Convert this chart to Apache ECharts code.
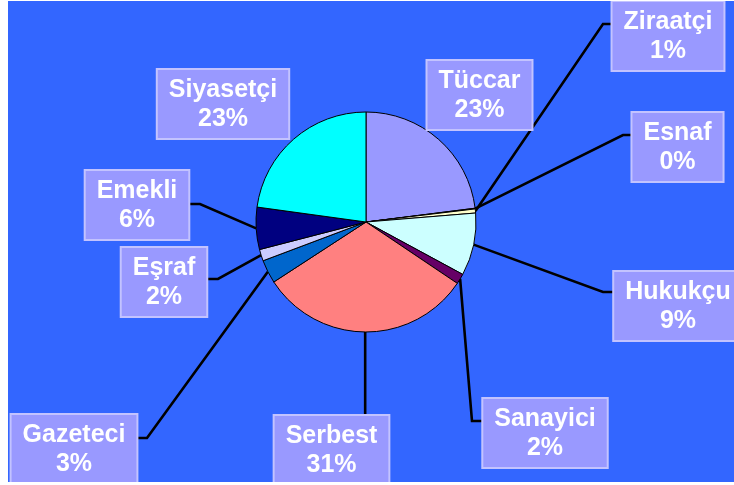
<!DOCTYPE html>
<html>
<head>
<meta charset="utf-8">
<script src="https://cdn.jsdelivr.net/npm/echarts@6/dist/echarts.min.js"></script>
<style>
  html, body { margin: 0; padding: 0; background: #ffffff; }
  #chart { position: absolute; left: 8px; top: 1px; width: 726px; height: 481px; }
</style>
</head>
<body>
<div id="chart"></div>
<script>
// ---- data ----
const categories = ['Tüccar', 'Esnaf', 'Ziraatçi', 'Hukukçu', 'Sanayici', 'Serbest', 'Gazeteci', 'Eşraf', 'Emekli', 'Siyasetçi'];
const shares = [23.0, 0.1, 0.6, 9.2, 1.52, 31.4, 3.45, 1.7, 6.2, 22.83];

// ---- styles / layout (page coordinates) ----
const sliceColors = ['#9999FF', '#993366', '#FFFFCC', '#CCFFFF', '#660066', '#FF8080', '#0066CC', '#CCCCFF', '#000080', '#00FFFF'];
const OX = 8, OY = 1;
const labelBoxes = {
  'Tüccar':    { cx: 479.5, top: 61 },
  'Esnaf':     { cx: 677.5, top: 113, elbow: [623, 135], end: [634, 135] },
  'Ziraatçi':  { cx: 668,   top: 2,   elbow: [603, 24],  end: [613, 24] },
  'Hukukçu':   { cx: 678,   top: 272, elbow: [603, 292], end: [616, 292] },
  'Sanayici':  { cx: 545,   top: 399, elbow: [472, 421], end: [484, 421] },
  'Serbest':   { cx: 331.5, top: 416, elbow: null,       end: [null, 416] },
  'Gazeteci':  { cx: 74,    top: 415, elbow: [147, 438], end: [136, 438] },
  'Eşraf':     { cx: 164,   top: 248, elbow: [218, 279], end: [205, 279] },
  'Emekli':    { cx: 137,   top: 171, elbow: [200, 204], end: [187, 204] },
  'Siyasetçi': { cx: 223,   top: 70 }
};
const guideStyle = { color: '#000000', width: 2.6, opacity: 1 };

const chart = echarts.init(document.getElementById('chart'), null, { renderer: 'canvas' });

const pieData = categories.map(function (name, i) {
  return {
    name: name,
    value: shares[i],
    itemStyle: { color: sliceColors[i] },
    labelLine: { show: !!labelBoxes[name].end, lineStyle: guideStyle }
  };
});

chart.setOption({
  animation: false,
  backgroundColor: '#3366FF',
  series: [{
    type: 'pie',
    center: [366 - OX, 222 - OY],
    radius: 110,
    startAngle: 90,
    clockwise: true,
    avoidLabelOverlap: false,
    percentPrecision: 2,
    itemStyle: { borderColor: '#000000', borderWidth: 1 },
    emphasis: { disabled: true },
    label: {
      show: true,
      position: 'outside',
      formatter: function (p) { return p.name + '\n' + Math.round(p.percent) + '%'; },
      color: '#FFFFFF',
      fontSize: 25,
      fontWeight: 'bold',
      fontFamily: 'Liberation Sans, Arial, sans-serif',
      lineHeight: 29,
      align: 'center',
      backgroundColor: '#9999FF',
      borderColor: '#C3C3FF',
      borderWidth: 2,
      padding: [6, 11, 4, 11]
    },
    labelLine: {
      show: true,
      length: 10,
      length2: 10,
      smooth: false,
      lineStyle: guideStyle
    },
    labelLayout: function (params) {
      const name = categories[params.dataIndex];
      const box = labelBoxes[name];
      const res = { x: box.cx - OX, y: box.top - OY, align: 'center', verticalAlign: 'top' };
      if (box.end && params.labelLinePoints) {
        const s = params.labelLinePoints[0];
        const end = [box.end[0] == null ? s[0] : box.end[0] - OX, box.end[1] - OY];
        const elbow = box.elbow ? [box.elbow[0] - OX, box.elbow[1] - OY] : end;
        res.labelLinePoints = [[s[0], s[1]], elbow, end];
      }
      return res;
    },
    data: pieData
  }]
});
</script>
</body>
</html>
